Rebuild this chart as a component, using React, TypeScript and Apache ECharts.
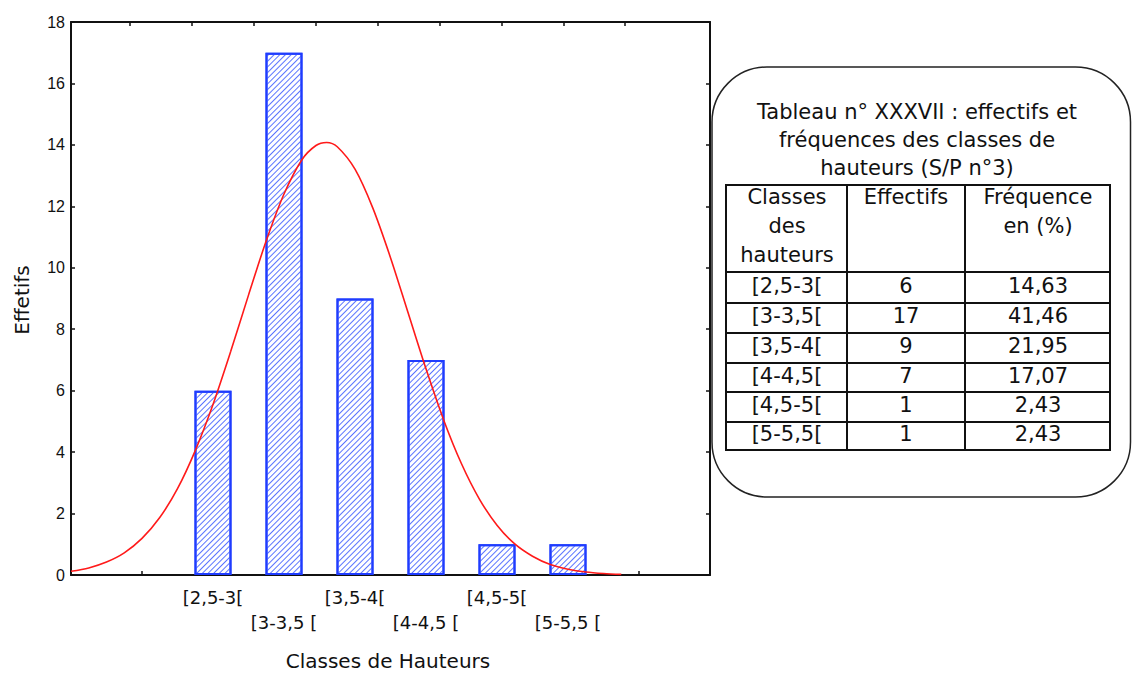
import React, { useEffect, useRef } from "react";
import * as echarts from "echarts";

// Height classes (x positions on the bottom axis) and their counts
const classPositions = [2, 3, 4, 5, 6, 7];
const classLabels = ["[2,5-3[", "[3-3,5 [", "[3,5-4[", "[4-4,5 [", "[4,5-5[", "[5-5,5 ["];
const effectifs = [6, 17, 9, 7, 1, 1];

// Table contents
const tableClasses = ["[2,5-3[", "[3-3,5[", "[3,5-4[", "[4-4,5[", "[4,5-5[", "[5-5,5["];
const tableEffectifs = ["6", "17", "9", "7", "1", "1"];
const tableFrequences = ["14,63", "41,46", "21,95", "17,07", "2,43", "2,43"];
const titleLines = ["Tableau n° XXXVII : effectifs et", "fréquences des classes de", "hauteurs (S/P n°3)"];

// Fitted normal curve, sampled along the bottom axis
const curveX = [0, 0.25, 0.5, 0.75, 1, 1.25, 1.5, 1.75, 2, 2.25, 2.5, 2.75, 3, 3.25, 3.45, 3.6, 3.75, 4, 4.25, 4.5, 4.75, 5, 5.25, 5.5, 5.75, 6, 6.25, 6.5, 6.75, 7, 7.25, 7.5, 7.75];
const curveY = [0.12, 0.23, 0.42, 0.72, 1.19, 1.87, 2.81, 4.05, 5.55, 7.28, 9.11, 10.88, 12.4, 13.51, 13.98, 14.08, 13.94, 13.21, 11.95, 10.33, 8.52, 6.71, 5.04, 3.62, 2.48, 1.62, 1.01, 0.61, 0.34, 0.19, 0.1, 0.05, 0.02];

// Axis ticks
const bottomTicks = [1, 2, 3, 4, 5, 6, 7, 8];
const topTicks = [0, 1, 2, 3, 4, 5, 6, 7, 8];

const INK = "#111";
const SANS = '"DejaVu Sans", sans-serif';

function buildTable(): any[] {
  const els: any[] = [];
  const left = 726, right = 1110, top = 185;
  const colX = [847, 965];
  const rowY = [272, 303, 333, 363, 392, 422, 450];
  const colCenter = [787, 906, 1038];
  const line = (x1: number, y1: number, x2: number, y2: number) => ({
    type: "line",
    z: 20,
    shape: { x1, y1, x2, y2 },
    style: { stroke: INK, lineWidth: 2 },
  });
  const text = (t: string, x: number, y: number) => ({
    type: "text",
    z: 21,
    x,
    y,
    style: { text: t, fontSize: 21, fontFamily: SANS, fill: INK, align: "center", verticalAlign: "middle" },
  });

  els.push({
    type: "rect",
    z: 19,
    shape: { x: 712, y: 67, width: 418.5, height: 430, r: 55 },
    style: { fill: "#fff", stroke: "#222", lineWidth: 1.5 },
  });
  titleLines.forEach((t, i) => els.push(text(t, 917, 112 + i * 28)));

  els.push({
    type: "rect",
    z: 20,
    shape: { x: left, y: top, width: right - left, height: rowY[rowY.length - 1] - top },
    style: { fill: "none", stroke: INK, lineWidth: 2 },
  });
  colX.forEach((x) => els.push(line(x, top, x, rowY[rowY.length - 1])));
  rowY.slice(0, -1).forEach((y) => els.push(line(left, y, right, y)));

  ["Classes", "des", "hauteurs"].forEach((t, i) => els.push(text(t, colCenter[0], 197 + i * 29)));
  els.push(text("Effectifs", colCenter[1], 197));
  ["Fréquence", "en (%)"].forEach((t, i) => els.push(text(t, colCenter[2], 197 + i * 29)));

  for (let i = 0; i < tableClasses.length; i++) {
    const cy = (rowY[i] + rowY[i + 1]) / 2 - 2;
    els.push(text(tableClasses[i], colCenter[0], cy));
    els.push(text(tableEffectifs[i], colCenter[1], cy));
    els.push(text(tableFrequences[i], colCenter[2], cy));
  }
  return els;
}

export default function App() {
  const ref = useRef<HTMLDivElement>(null);

  useEffect(() => {
    if (!ref.current) return;
    const chart = echarts.init(ref.current, null, { renderer: "svg" });

    const frameLine = { show: true, onZero: false, lineStyle: { color: INK, width: 2 } };
    const innerTick = (customValues?: number[]) => ({
      show: true,
      inside: true,
      length: 4,
      lineStyle: { color: INK, width: 1.5 },
      ...(customValues ? { customValues } : {}),
    });

    chart.setOption({
      animation: false,
      backgroundColor: "#fff",
      grid: { left: 71, right: 423, top: 22, bottom: 98 },
      xAxis: [
        {
          type: "value",
          position: "bottom",
          min: 0,
          max: 9,
          axisLine: frameLine,
          axisTick: innerTick(bottomTicks),
          splitLine: { show: false },
          axisLabel: {
            customValues: classPositions,
            margin: 10,
            fontSize: 18,
            lineHeight: 25,
            fontFamily: SANS,
            color: INK,
            formatter: (v: number) => {
              const i = classPositions.indexOf(v);
              if (i < 0) return "";
              return i % 2 === 0 ? classLabels[i] : "\n" + classLabels[i];
            },
          },
        },
        {
          type: "value",
          position: "top",
          min: -0.953,
          max: 9.37,
          axisLine: frameLine,
          axisTick: innerTick(topTicks),
          axisLabel: { show: false },
          splitLine: { show: false },
        },
      ],
      yAxis: [
        {
          type: "value",
          position: "left",
          min: 0,
          max: 18,
          interval: 2,
          axisLine: frameLine,
          axisTick: innerTick(),
          splitLine: { show: false },
          axisLabel: { margin: 6, fontSize: 16, fontFamily: '"Liberation Sans", Arial, sans-serif', color: INK },
        },
        {
          type: "value",
          position: "right",
          min: 0,
          max: 18,
          interval: 2,
          axisLine: frameLine,
          axisTick: innerTick(),
          axisLabel: { show: false },
          splitLine: { show: false },
        },
      ],
      series: [
        {
          type: "bar",
          xAxisIndex: 0,
          yAxisIndex: 0,
          barWidth: 37,
          data: classPositions.map((x, i) => [x, effectifs[i]]),
          itemStyle: {
            color: "#fff",
            borderColor: "#1f3cff",
            borderWidth: 2,
            decal: {
              symbol: "rect",
              symbolSize: 1,
              color: "#5a74ff",
              dashArrayX: [1, 0],
              dashArrayY: [1, 2.8],
              rotation: -Math.PI / 4,
            },
          },
          z: 2,
        },
        {
          type: "line",
          xAxisIndex: 0,
          yAxisIndex: 0,
          data: curveX.map((x, i) => [x, curveY[i]]),
          showSymbol: false,
          smooth: 0.3,
          lineStyle: { color: "#ff1a1a", width: 1.6 },
          z: 3,
        },
      ],
      graphic: [
        {
          type: "text",
          x: 388,
          y: 661,
          style: { text: "Classes de Hauteurs", fontSize: 20, fontFamily: SANS, fill: INK, align: "center", verticalAlign: "middle" },
        },
        {
          type: "text",
          x: 22,
          y: 300,
          rotation: Math.PI / 2,
          style: { text: "Effetifs", fontSize: 20, fontFamily: SANS, fill: INK, align: "center", verticalAlign: "middle" },
        },
        ...buildTable(),
      ],
    });

    return () => chart.dispose();
  }, []);

  return <div ref={ref} style={{ position: "fixed", left: 0, top: 0, width: 1133, height: 673 }} />;
}
